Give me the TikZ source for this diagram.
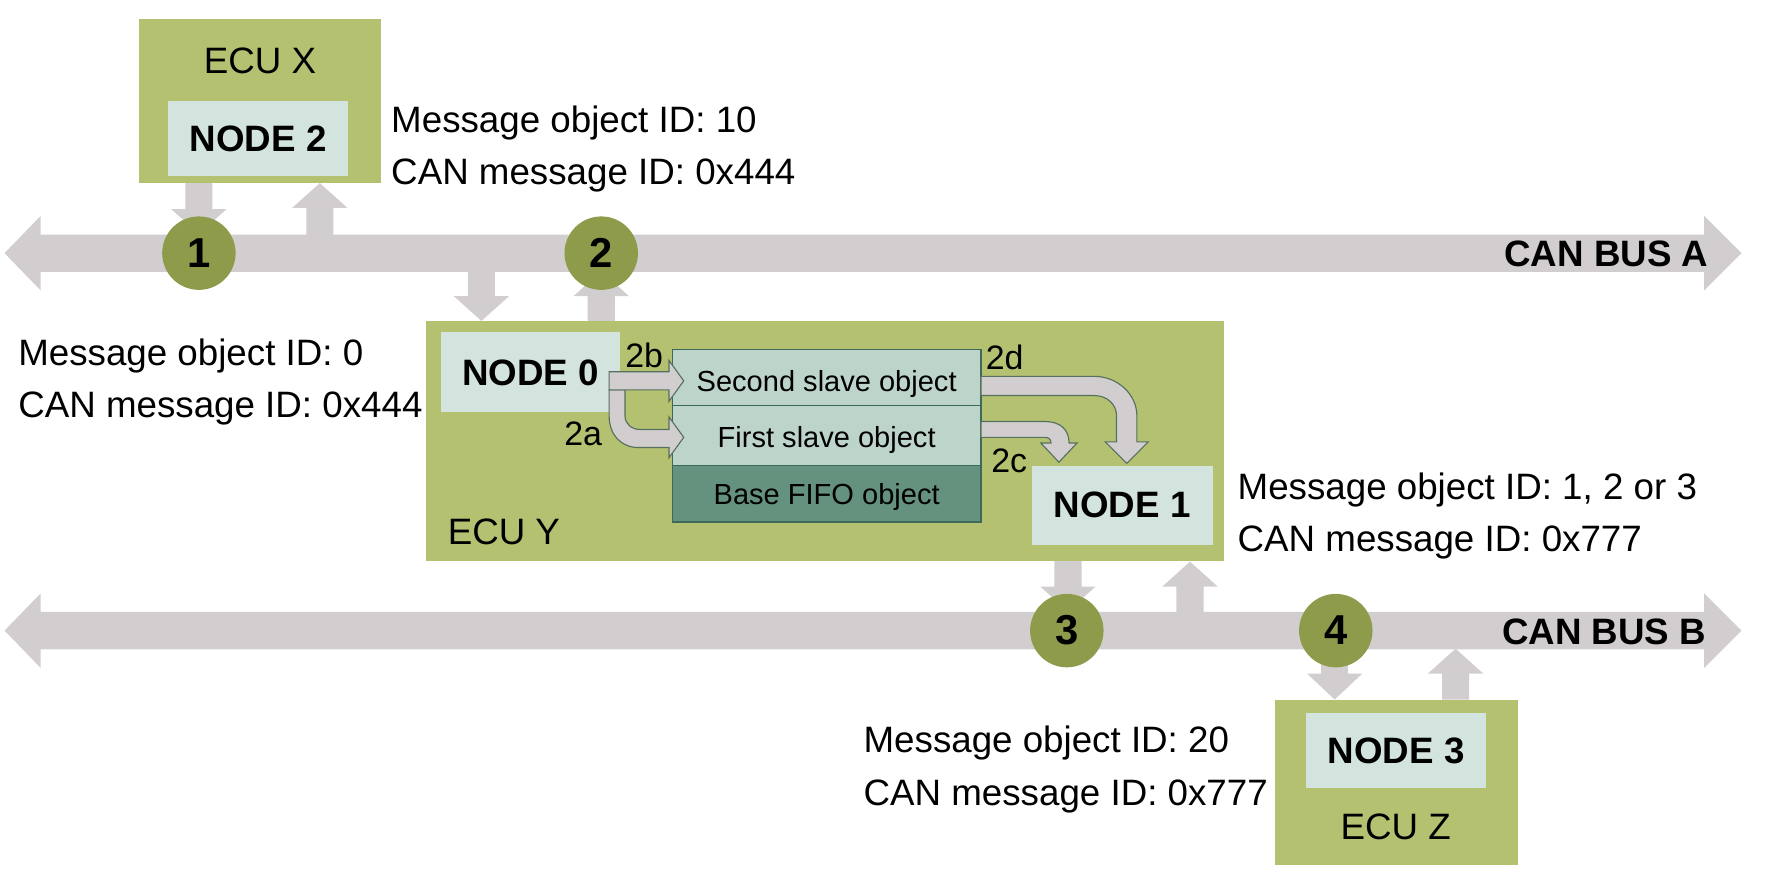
\documentclass[tikz,border=0pt]{standalone}
\usepackage{fontspec}
\setmainfont{Liberation Sans}
\definecolor{ecu}{HTML}{B3C171}
\definecolor{nodebg}{HTML}{D3E3DE}
\definecolor{slave}{HTML}{BDD4CB}
\definecolor{fifo}{HTML}{65927E}
\definecolor{tableline}{HTML}{3D6A58}
\definecolor{busgrey}{HTML}{D2CED0}
\definecolor{circ}{HTML}{8E9B4B}
\definecolor{arrowline}{HTML}{56705F}
\newcommand{\vbusarrow}[4]{%
  \fill[busgrey] ({#1-12},#2) -- ({#1+12},#2) -- ({#1+12},#3) -- ({#1+24.5},#3) -- (#1,#4) -- ({#1-24.5},#3) -- ({#1-12},#3) -- cycle;}
\newcommand{\hbus}[1]{%
  \fill[busgrey] (4,#1) -- (36,{#1-33}) -- (36,{#1-16.5}) -- (1508,{#1-16.5}) -- (1508,{#1-33}) -- (1541,#1) -- (1508,{#1+33}) -- (1508,{#1+16.5}) -- (36,{#1+16.5}) -- (36,{#1+33}) -- cycle;}
\tikzset{
  box/.style={anchor=north west, inner sep=0pt, outer sep=0pt},
  ecubox/.style={box, fill=ecu},
  nodebox/.style={box, fill=nodebg},
  slavebox/.style={box, fill=slave, draw=tableline, line width=1.2pt},
  fifobox/.style={box, fill=fifo, draw=tableline, line width=1.2pt},
  txt/.style={font=\fontsize{32.5}{39}\selectfont, inner sep=0pt},
  btxt/.style={font=\fontsize{32.5}{39}\selectfont\bfseries, inner sep=0pt},
  stxt/.style={font=\fontsize{25.7}{30}\selectfont, inner sep=0pt},
  ltxt/.style={font=\fontsize{30}{36}\selectfont, inner sep=0pt},
  numcirc/.style={circle, fill=circ, minimum size=65pt, inner sep=0pt, font=\fontsize{37}{44}\selectfont\bfseries},
  flowarrow/.style={fill=busgrey, draw=arrowline, line width=1pt, line join=miter},
}
\begin{document}
\begin{tikzpicture}[x=1pt,y=-1pt]
\useasboundingbox (0,0) rectangle (1568,788);

% bus connection arrows
\vbusarrow{176}{162}{185}{207}
\vbusarrow{283}{208}{184}{162}
\vbusarrow{426}{240}{262}{284}
\vbusarrow{532}{284}{262}{240}
\vbusarrow{945}{496}{519}{541}
\vbusarrow{1053}{542}{519}{497}
\vbusarrow{1181}{574}{596}{619}
\vbusarrow{1288}{619}{596}{574}

% buses
\hbus{224}
\hbus{558}
\node[btxt, anchor=base east] (busA) at (1512,236) {CAN BUS A};
\node[btxt, anchor=base east] (busB) at (1510,570) {CAN BUS B};

% circles
\node[numcirc] (c1) at (176,224) {1};
\node[numcirc] (c2) at (532,224) {2};
\node[numcirc] (c3) at (944,558) {3};
\node[numcirc] (c4) at (1182,558) {4};

% ECU X
\node[ecubox, minimum width=214pt, minimum height=145pt] (ecux) at (123,17) {};
\node[txt, anchor=base] (ecuxlbl) at (230,65) {ECU X};
\node[nodebox, minimum width=159pt, minimum height=67pt] (node2) at (149,89) {};
\node[btxt] (node2lbl) at (node2.center) {NODE 2};
\node[txt, anchor=base west] (t2a) at (346,117) {Message object ID: 10};
\node[txt, anchor=base west] (t2b) at (346,163) {CAN message ID: 0x444};

% ECU Y
\node[ecubox, minimum width=706pt, minimum height=212pt] (ecuy) at (377,284) {};
\node[txt, anchor=base west] (ecuylbl) at (396,482) {ECU Y};
\node[nodebox, minimum width=159pt, minimum height=71pt] (node0) at (390,294) {};
\node[btxt] (node0lbl) at (node0.center) {NODE 0};
\node[slavebox, minimum width=273pt, minimum height=50pt] (second) at (595,309) {};
\node[slavebox, minimum width=273pt, minimum height=53pt] (first) at (595,359) {};
\node[fifobox, minimum width=273pt, minimum height=50pt] (fifo) at (595,412) {};
\node[stxt, anchor=base] (secondlbl) at (731.5,346) {Second slave object};
\node[stxt, anchor=base] (firstlbl) at (731.5,396) {First slave object};
\node[stxt, anchor=base] (fifolbl) at (731.5,446) {Base FIFO object};
\node[nodebox, minimum width=160pt, minimum height=70pt] (node1) at (913,412) {};
\node[btxt] (node1lbl) at (node1.center) {NODE 1};

% internal flow arrows
\draw[flowarrow] (539,345) -- (539,368) .. controls (539,384) and (549,396) .. (565,396) -- (592,396) -- (592,405) -- (605,387) -- (592,369) -- (592,380) -- (566,380) .. controls (559,380) and (553,375) .. (553,368) -- (553,345) -- cycle;
\draw[flowarrow] (539,329) -- (592,329) -- (592,319) -- (605,337) -- (592,355) -- (592,345) -- (539,345) -- cycle;
\draw[flowarrow] (868,333) -- (968,333) .. controls (989,333) and (1006,349) .. (1006,368) -- (1006,391) -- (1016,391) -- (997,410) -- (978,391) -- (988,391) -- (988,368) .. controls (988,358) and (980,350) .. (968,350) -- (868,350) -- cycle;
\draw[flowarrow] (868,373) -- (925,373) .. controls (938,373) and (946,380) .. (946,392) -- (953,392) -- (937,409) -- (921,392) -- (930,392) .. controls (930,389) and (928,387) .. (925,387) -- (868,387) -- cycle;
\node[ltxt, anchor=base] (l2b) at (570,325) {2b};
\node[ltxt, anchor=base] (l2a) at (516,394) {2a};
\node[ltxt, anchor=base] (l2d) at (889,327) {2d};
\node[ltxt, anchor=base] (l2c) at (893,418) {2c};

% side texts
\node[txt, anchor=base west] (t0a) at (16,323) {Message object ID: 0};
\node[txt, anchor=base west] (t0b) at (16,369) {CAN message ID: 0x444};
\node[txt, anchor=base west] (t1a) at (1095,442) {Message object ID: 1, 2 or 3};
\node[txt, anchor=base west] (t1b) at (1095,488) {CAN message ID: 0x777};

% ECU Z
\node[ecubox, minimum width=215pt, minimum height=146pt] (ecuz) at (1128,619) {};
\node[nodebox, minimum width=159pt, minimum height=66pt] (node3) at (1156,631) {};
\node[btxt] (node3lbl) at (node3.center) {NODE 3};
\node[txt, anchor=base] (ecuzlbl) at (1235,743) {ECU Z};
\node[txt, anchor=base west] (t3a) at (764,666) {Message object ID: 20};
\node[txt, anchor=base west] (t3b) at (764,713) {CAN message ID: 0x777};
\end{tikzpicture}
\end{document}
